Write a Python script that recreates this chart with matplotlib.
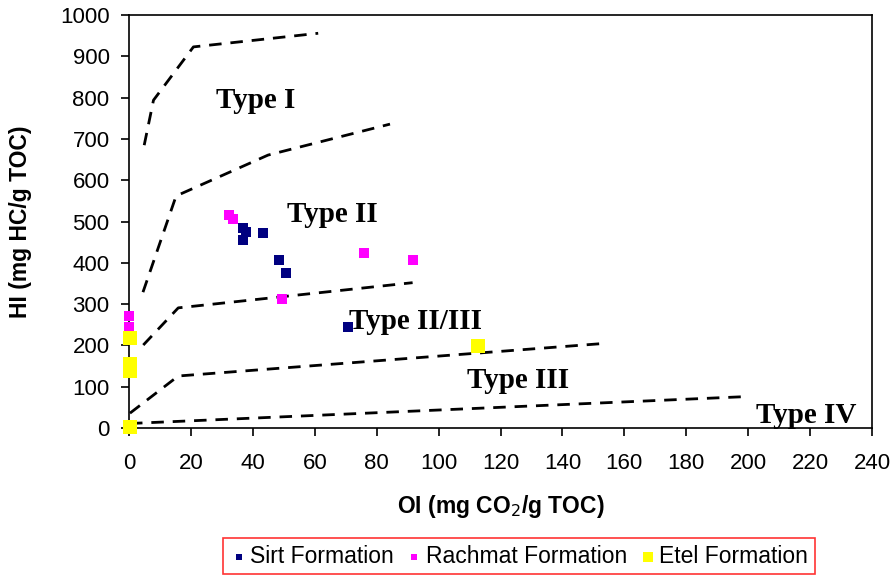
import numpy as np
import matplotlib.pyplot as plt

# Sirt Formation (OI, HI)
sirt_oi = [36.7, 37.7, 36.7, 43.4, 48.4, 50.6, 70.8]
sirt_hi = [484, 475, 455, 473, 407, 376, 245]

# Rachmat Formation
rach_oi = [32.4, 33.7, 49.5, 75.9, 91.6, 0, 0]
rach_hi = [516, 505, 312, 424, 407, 271, 245]

# Etel Formation
etel_oi = [0.3, 0.3, 0.3, 112.8, 0.3]
etel_hi = [217, 156, 137, 199, 2]

# boundary lines between kerogen types
type1_x = [4.9, 7.9, 20.8, 61.1]
type1_y = [685, 794, 923, 956]
type2_x = [4.5, 15.2, 44.9, 84.3]
type2_y = [329, 562, 661, 736]
type23_x = [4.6, 15.9, 91.6]
type23_y = [201, 291, 352]
type3_x = [0.3, 15.9, 153.7]
type3_y = [36, 126, 205]
type4_x = [0.3, 199]
type4_y = [11, 76]

type_labels = ['Type I', 'Type II', 'Type II/III', 'Type III', 'Type IV']
label_x = [41, 65.6, 92.4, 125.6, 218.7]
label_y = [792, 518, 259, 116, 31]

plt.rcParams['font.family'] = ['Liberation Sans', 'DejaVu Sans']

fig = plt.figure(figsize=(8.93, 5.81), dpi=100)
ax = fig.add_axes([0.1445, 0.2633, 0.832, 0.7107])

for bx, by in [(type1_x, type1_y), (type2_x, type2_y), (type23_x, type23_y),
               (type3_x, type3_y), (type4_x, type4_y)]:
    ax.plot(bx, by, color='black', lw=2.0, dashes=(4.5, 3.2), zorder=2)

ax.scatter(sirt_oi, sirt_hi, marker='s', s=50, color='#000080', label='Sirt Formation',
           zorder=3, clip_on=False, linewidths=0)
ax.scatter(rach_oi, rach_hi, marker='s', s=50, color='#ff00ff', label='Rachmat Formation',
           zorder=3, clip_on=False, linewidths=0)
ax.scatter(etel_oi, etel_hi, marker='s', s=100, color='#ffff00', label='Etel Formation',
           zorder=3, clip_on=False, linewidths=0)

for t, tx, ty in zip(type_labels, label_x, label_y):
    ax.text(tx, ty, t, family='Liberation Serif', fontweight='bold', fontsize=21,
            ha='center', va='center', zorder=4)

ax.set_xlim(0, 240)
ax.set_ylim(0, 1000)
ax.set_xticks(np.arange(0, 241, 20))
ax.set_yticks(np.arange(0, 1001, 100))
ax.tick_params(direction='out', length=6, width=1.2, labelsize=16)
ax.tick_params(axis='x', pad=12)
ax.tick_params(axis='y', pad=8)
for sp in ax.spines.values():
    sp.set_linewidth(1.2)

ax.set_xlabel('OI (mg CO$_2$/g TOC)', fontsize=16.5, fontweight='bold')
ax.set_ylabel('HI (mg HC/g TOC)', fontsize=16.5, fontweight='bold')
ax.xaxis.set_label_coords(0.5, -0.157)
ax.yaxis.set_label_coords(-0.1305, 0.5)

leg = fig.legend(loc='center', bbox_to_anchor=(0.581, 0.043), ncol=3, fontsize=16.5,
                 frameon=True, fancybox=False, edgecolor='red', handletextpad=0.1,
                 columnspacing=0.5, borderpad=0.3, markerscale=0.7, handlelength=0.8)
leg.get_frame().set_linewidth(1.2)

plt.savefig('out.png', dpi=100)
